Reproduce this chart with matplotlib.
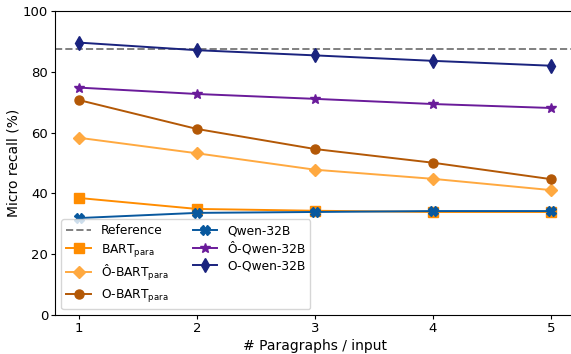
import matplotlib
matplotlib.use("Agg")
import matplotlib.pyplot as plt

plt.rcParams["font.size"] = 10

x = [1, 2, 3, 4, 5]
reference = 87.5
bart = [38.5, 34.9, 34.3, 33.9, 33.9]
ohat_bart = [58.3, 53.2, 47.8, 44.8, 41.1]
o_bart = [70.7, 61.2, 54.6, 50.1, 44.7]
qwen = [31.9, 33.6, 33.9, 34.2, 34.2]
ohat_qwen = [74.8, 72.7, 71.1, 69.4, 68.1]
o_qwen = [89.6, 87.1, 85.4, 83.6, 82.0]

fig = plt.figure(figsize=(5.71, 3.54), dpi=100)
ax = fig.add_axes([0.097, 0.110, 0.909, 0.859])

lw = 1.4
ax.axhline(reference, color="grey", linestyle="--", linewidth=lw, label="Reference")
ax.plot(x, bart, color="#ff8c00", marker="s", markersize=6.5, linewidth=lw, label=r"BART$_{\mathregular{para}}$")
ax.plot(x, ohat_bart, color="#ffa940", marker="D", markersize=6.5, linewidth=lw, label=r"Ô-BART$_{\mathregular{para}}$")
ax.plot(x, o_bart, color="#b35806", marker="o", markersize=6.5, linewidth=lw, label=r"O-BART$_{\mathregular{para}}$")
ax.plot(x, qwen, color="#08589e", marker="X", markersize=6.5, linewidth=lw, label="Qwen-32B")
ax.plot(x, ohat_qwen, color="#6a1b9a", marker="*", markersize=7.5, linewidth=lw, label="Ô-Qwen-32B")
ax.plot(x, o_qwen, color="#1a237e", marker="d", markersize=7.5, linewidth=lw, label="O-Qwen-32B")

ax.set_ylim(0, 100)
ax.set_xlim(0.8, 5.2)
ax.set_xticks(x)
ax.tick_params(axis="both", labelsize=9.5, length=2.6, pad=2.6)
ax.set_xlabel("# Paragraphs / input", labelpad=3)
ax.set_ylabel("Micro recall (%)", labelpad=2)
ax.legend(loc="lower left", ncol=2, fontsize=8.8, labelspacing=0.35)

fig.savefig("out.png", dpi=100)
